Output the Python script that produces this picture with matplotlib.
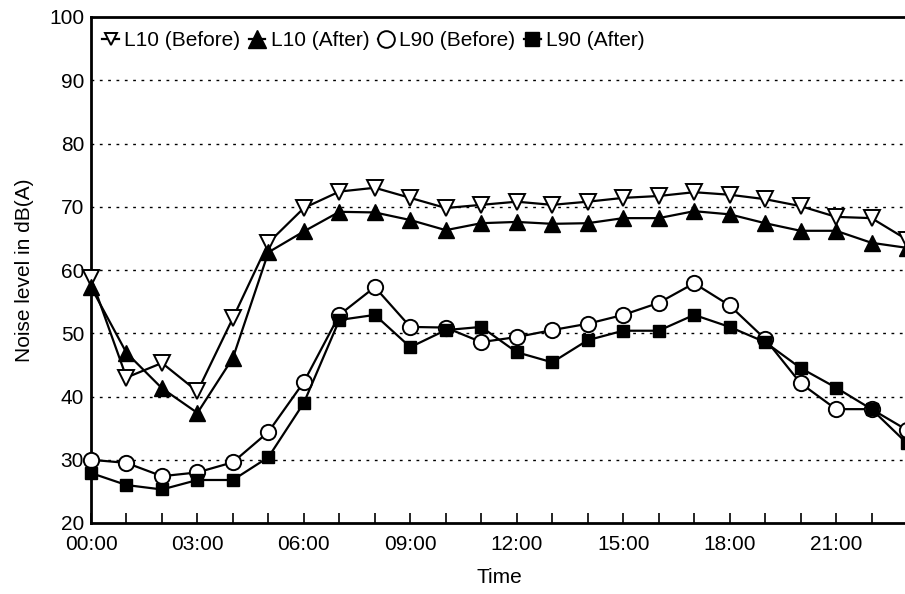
import numpy as np
import matplotlib
matplotlib.use("Agg")
import matplotlib.pyplot as plt

plt.rcParams['font.family'] = ['Liberation Sans', 'DejaVu Sans']

# hourly readings, 00:00 .. 23:00
hours = np.arange(24)
l10_before = [58.7, 43, 45.3, 40.8, 52.4, 64.3, 69.8, 72.4, 73, 71.4, 69.8, 70.3,
              70.8, 70.3, 70.8, 71.4, 71.7, 72.3, 71.9, 71.2, 70.1, 68.4, 68.2, 64.8]
l10_after = [57.3, 46.9, 41.3, 37.4, 46.1, 62.8, 66.1, 69.2, 69.1, 67.9, 66.3, 67.4,
             67.6, 67.3, 67.4, 68.2, 68.2, 69.3, 68.8, 67.4, 66.2, 66.2, 64.3, 63.5]
l90_before = [30, 29.5, 27.4, 28, 29.6, 34.4, 42.3, 52.9, 57.3, 51, 50.9, 48.6,
              49.4, 50.5, 51.5, 52.9, 54.8, 57.9, 54.4, 49.1, 42.1, 38, 38, 34.7]
l90_after = [27.9, 26, 25.3, 26.8, 26.8, 30.4, 39, 52.1, 52.9, 47.8, 50.5, 51,
             47, 45.4, 48.9, 50.4, 50.4, 52.9, 51, 48.6, 44.5, 41.4, 38, 32.6]
tick_labels = ['00:00', '03:00', '06:00', '09:00', '12:00', '15:00', '18:00', '21:00']

fs = 15

fig = plt.figure(figsize=(9.05, 5.94), dpi=100)
ax = fig.add_axes([91 / 905, 1 - 523 / 594, 816 / 905, 506 / 594])

style = dict(color='black', lw=1.6, clip_on=False, zorder=3)
ax.plot(hours, l10_before, marker='v', ms=12, mfc='white', mec='black', mew=1.4,
        label='L10 (Before)', **style)
ax.plot(hours, l10_after, marker='^', ms=12, mfc='black', mec='black',
        label='L10 (After)', **style)
ax.plot(hours, l90_before, marker='o', ms=11, mfc='white', mec='black', mew=1.4,
        label='L90 (Before)', **style)
ax.plot(hours, l90_after, marker='s', ms=8.5, mfc='black', mec='black',
        label='L90 (After)', **style)

ax.set_xlim(0, 23)
ax.set_ylim(20, 100)
ax.set_xticks(np.arange(0, 24, 3))
ax.set_xticklabels(tick_labels)
ax.set_xticks(np.arange(24), minor=True)
ax.set_yticks(np.arange(20, 101, 10))
ax.tick_params(axis='x', which='both', direction='in', length=7, width=1.2, labelsize=fs, pad=8.5)
ax.tick_params(axis='y', length=0, labelsize=fs, pad=5)

for y in range(30, 100, 10):
    ax.axhline(y, color='black', lw=1.0, ls=(0, (2, 4)), zorder=1)

for s in ['left', 'bottom', 'top']:
    ax.spines[s].set_linewidth(2)
ax.spines['right'].set_visible(False)

ax.set_xlabel('Time', fontsize=fs, labelpad=10)
ax.set_ylabel('Noise level in dB(A)', fontsize=fs, labelpad=11)

leg = ax.legend(loc='upper left', ncol=4, frameon=False, fontsize=fs,
                handlelength=0.8, handletextpad=0.25, columnspacing=0.4,
                borderaxespad=0, borderpad=0, bbox_to_anchor=(0.014, 0.972))
for h, size in zip(leg.legend_handles, [9, 13, 12, 10]):
    h.set_markersize(size)

fig.savefig('out.png', dpi=100)
